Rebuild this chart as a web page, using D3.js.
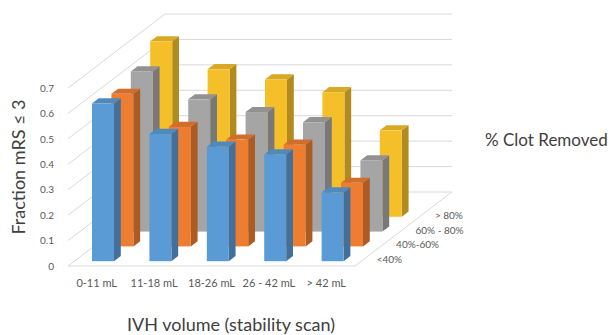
<!DOCTYPE html>
<html>
<head>
<meta charset="utf-8">
<script src="https://cdnjs.cloudflare.com/ajax/libs/d3/7.8.5/d3.min.js"></script>
<style>
  body { margin: 0; background: #fff; }
  svg text { font-family: Lato, "Open Sans", sans-serif; }
</style>
</head>
<body>
<div id="chart"></div>
<script>
// data
var categories = ['0-11 mL', '11-18 mL', '18-26 mL', '26 - 42 mL', '> 42 mL'];
var seriesNames = ['<40%', '40%-60%', '60% - 80%', '> 80%'];
var clotLt40 = [0.62, 0.50, 0.45, 0.42, 0.27];
var clot40to60 = [0.60, 0.47, 0.42, 0.40, 0.25];
var clot60to80 = [0.63, 0.52, 0.47, 0.43, 0.28];
var clotGt80 = [0.69, 0.58, 0.54, 0.49, 0.34];
var yTicks = [0, 0.1, 0.2, 0.3, 0.4, 0.5, 0.6, 0.7];
var seriesColors = ['#5b9bd5', '#ed7d31', '#a5a5a5', '#f5bf2a'];

var series = [clotLt40, clot40to60, clot60to80, clotGt80];

var width = 611, height = 335;
var ox = 68, oy = 266;        // front-left corner of the floor
var floorW = 287, wallH = 178;
var DX = 97, DY = 74;         // oblique depth offset, front -> back

var svg = d3.select('#chart').append('svg')
    .attr('width', width)
    .attr('height', height);

var x = d3.scaleBand().domain(categories).range([0, floorW])
    .paddingInner(0.617).paddingOuter(0.3085);
var y = d3.scaleLinear().domain([0, 0.7]).range([0, wallH]);
var z = d3.scaleBand().domain(seriesNames).range([0, 0.8])
    .paddingInner(0.65).paddingOuter(0.325);

function px(xv, zv) { return ox + xv + zv * DX; }
function py(h, zv) { return oy - h - zv * DY; }

// walls + floor grid
var grid = svg.append('g').attr('stroke', '#d9d9d9').attr('stroke-width', 1).attr('fill', 'none');
yTicks.forEach(function(t) {
    var h = y(t);
    grid.append('line')
        .attr('x1', px(0, 0)).attr('y1', py(h, 0))
        .attr('x2', px(0, 1)).attr('y2', py(h, 1));
    grid.append('line')
        .attr('x1', px(0, 1)).attr('y1', py(h, 1))
        .attr('x2', px(floorW, 1)).attr('y2', py(h, 1));
});
grid.append('path')
    .attr('d', 'M' + px(0, 0) + ',' + py(0, 0) +
               'L' + px(floorW, 0) + ',' + py(0, 0) +
               'L' + px(floorW, 1) + ',' + py(0, 1));

// bars, back row first
var bw = x.bandwidth(), bd = z.bandwidth();
for (var s = seriesNames.length - 1; s >= 0; s--) {
    var base = d3.color(seriesColors[s]);
    var g = svg.append('g');
    var z0 = z(seriesNames[s]), z1 = z0 + bd;
    series[s].forEach(function(v, i) {
        var x0 = x(categories[i]), x1 = x0 + bw, h = y(v);
        // side
        g.append('path')
            .attr('fill', base.darker(0.9))
            .attr('d', 'M' + px(x1, z0) + ',' + py(h, z0) +
                       'L' + px(x1, z1) + ',' + py(h, z1) +
                       'L' + px(x1, z1) + ',' + py(0, z1) +
                       'L' + px(x1, z0) + ',' + py(0, z0) + 'Z');
        // top
        g.append('path')
            .attr('fill', base.darker(0.35))
            .attr('d', 'M' + px(x0, z0) + ',' + py(h, z0) +
                       'L' + px(x1, z0) + ',' + py(h, z0) +
                       'L' + px(x1, z1) + ',' + py(h, z1) +
                       'L' + px(x0, z1) + ',' + py(h, z1) + 'Z');
        // front
        g.append('rect')
            .attr('fill', base)
            .attr('x', px(x0, z0))
            .attr('y', py(h, z0))
            .attr('width', bw)
            .attr('height', h);
    });
}

// value axis
var yAxisScale = d3.scaleLinear().domain([0, 0.7]).range([oy, oy - wallH]);
var yAxis = svg.append('g')
    .attr('transform', 'translate(' + ox + ',0)')
    .call(d3.axisLeft(yAxisScale).tickValues(yTicks).tickSize(0).tickPadding(14)
        .tickFormat(function(d) { return d === 0 ? '0' : d3.format('.1f')(d); }));
yAxis.select('.domain').remove();
yAxis.selectAll('text').attr('fill', '#595959').style('font-size', '10px');

// category axis
var xAxisScale = d3.scaleBand().domain(categories).range([ox, ox + floorW]);
var xAxis = svg.append('g')
    .attr('transform', 'translate(0,' + oy + ')')
    .call(d3.axisBottom(xAxisScale).tickSize(0).tickPadding(13));
xAxis.select('.domain').remove();
xAxis.selectAll('text').attr('fill', '#595959').style('font-size', '11px');

// depth labels
svg.append('g').selectAll('text')
    .data(seriesNames).enter().append('text')
    .attr('x', function(d) { return px(floorW, z(d) + bd / 2) + 12; })
    .attr('y', function(d) { return py(0, z(d) + bd / 2) + 1; })
    .attr('dy', '0.35em')
    .attr('fill', '#595959')
    .style('font-size', '10px')
    .text(function(d) { return d; });

// titles
svg.append('text')
    .attr('transform', 'translate(25,167) rotate(-90)')
    .attr('text-anchor', 'middle')
    .attr('fill', '#404040')
    .style('font-size', '18px')
    .text('Fraction mRS \u2264 3');

svg.append('text')
    .attr('x', 231).attr('y', 331)
    .attr('text-anchor', 'middle')
    .attr('fill', '#404040')
    .style('font-size', '18px')
    .text('IVH volume (stability scan)');

svg.append('text')
    .attr('x', 485).attr('y', 146)
    .attr('fill', '#404040')
    .style('font-size', '17px')
    .text('% Clot Removed');
</script>
</body>
</html>
